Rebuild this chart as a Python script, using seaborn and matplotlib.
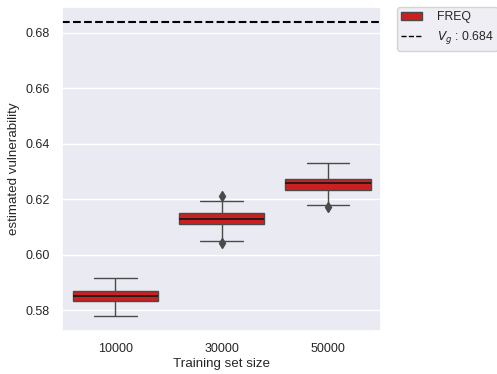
import matplotlib
matplotlib.use("Agg")
import matplotlib.pyplot as plt
import seaborn as sns
import pandas as pd
from matplotlib.lines import Line2D

# Estimated vulnerability samples per training-set size
sizes = ["10000", "30000", "50000"]
vuln_10000 = [0.5778, 0.5800, 0.5832, 0.5841, 0.5850, 0.5860, 0.5869, 0.5900, 0.5917]
vuln_30000 = [0.6043, 0.6050, 0.6109, 0.6120, 0.6129, 0.6140, 0.6149, 0.6192, 0.6212]
vuln_50000 = [0.6172, 0.6181, 0.6234, 0.6248, 0.6260, 0.6266, 0.6274, 0.6310, 0.6332]
estimator = "FREQ"
v_g = 0.684

df = pd.DataFrame({
    "Training set size": [sizes[0]] * len(vuln_10000)
    + [sizes[1]] * len(vuln_30000)
    + [sizes[2]] * len(vuln_50000),
    "estimated vulnerability": vuln_10000 + vuln_30000 + vuln_50000,
    "estimator": [estimator] * (len(vuln_10000) + len(vuln_30000) + len(vuln_50000)),
})

sns.set_theme(style="darkgrid")
plt.rcParams["font.family"] = ["Liberation Sans", "DejaVu Sans"]

fig, ax = plt.subplots(figsize=(4.97, 3.74), dpi=100)
fig.subplots_adjust(left=0.125, right=0.767, top=0.981, bottom=0.115)

sns.boxplot(
    data=df, x="Training set size", y="estimated vulnerability",
    hue="estimator", palette=["#cc1f1f"], saturation=1, width=0.8,
    order=sizes, linewidth=1.0, linecolor="#4a4a4a",
    medianprops=dict(color="#1a1a1a", linewidth=1.3),
    flierprops=dict(marker="d", markersize=5, markerfacecolor="#4a4a4a",
                    markeredgecolor="#4a4a4a"),
    ax=ax,
)

ax.axhline(v_g, color="black", linestyle="--", linewidth=1.5)

leg = ax.get_legend()
handles = list(leg.legend_handles)
labels = [t.get_text() for t in leg.texts]
leg.remove()
handles.append(Line2D([], [], color="black", linestyle="--", linewidth=1.0))
labels.append(r"$V_g$ : " + f"{v_g:.3f}")
ax.legend(handles, labels, loc="upper left", bbox_to_anchor=(1.05, 1.0),
          borderaxespad=0, fontsize=8.8, frameon=True,
          handlelength=1.7, handletextpad=1.2, borderpad=0.35)

ax.set_xlabel("Training set size", fontsize=9.6, labelpad=2)
ax.set_ylabel("estimated vulnerability", fontsize=9.6, labelpad=4)
ax.tick_params(axis="both", labelsize=9, pad=3)

fig.savefig("out.png", dpi=100)
